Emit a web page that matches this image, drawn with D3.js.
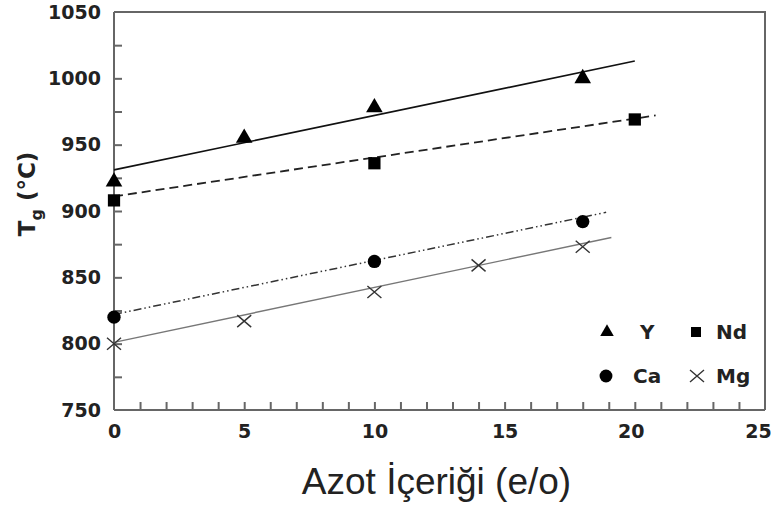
<!DOCTYPE html>
<html>
  <head>
    <meta http-equiv="Content-Type" content="text/html;charset=utf-8"/>
    <style type="text/css">

body {
  margin: 0;
  background: #fff;
}

svg {
  font-family: "Liberation Sans", Arial, sans-serif;
}

.axis text {
  font-family: "DejaVu Sans", sans-serif;
  font-weight: bold;
  font-size: 19px;
  fill: #222;
}

.axis line, .axis path, .frame {
  fill: none;
  stroke: #666;
  stroke-width: 2px;
}

.fits path {
  fill: none;
}

.legend text {
  font-family: "DejaVu Sans", sans-serif;
  font-weight: bold;
  font-size: 20px;
  fill: #222;
}

    </style>
  </head>
  <body>
    <svg></svg>

    <script type="text/javascript" src="https://cdn.jsdelivr.net/npm/d3@7"></script>

    <script type="text/javascript">

var yNitrogen  = [0, 5, 10, 18],
    yTg        = [922, 955, 978, 1000];
var ndNitrogen = [0, 10, 20],
    ndTg       = [908, 936, 969];
var caNitrogen = [0, 10, 18],
    caTg       = [820, 862, 892];
var mgNitrogen = [0, 5, 10, 14, 18],
    mgTg       = [800, 817, 839, 859, 873];

// fitted lines: [start, end] in (N, Tg)
var yFit  = [[0, 931], [20, 1013]],
    ndFit = [[0, 911], [20.8, 972]],
    caFit = [[0, 822], [18.9, 899]],
    mgFit = [[0, 801], [19.1, 880]];

var xTicks = [0, 5, 10, 15, 20, 25],
    yTicks = [750, 800, 850, 900, 950, 1000, 1050];

var legendNames = ["Y", "Nd", "Ca", "Mg"];

var W = 776, H = 506;
var m = [12, 11, 96, 114]; // top right bottom left

var svg = d3.select("svg")
    .attr("width", W)
    .attr("height", H);

var w = W - m[1] - m[3],
    h = H - m[0] - m[2];

var x = d3.scaleLinear().domain([0, 25]).range([m[3], m[3] + w]);
var y = d3.scaleLinear().domain([750, 1050]).range([m[0] + h, m[0]]);

// frame top + right
svg.append("path")
    .attr("class", "frame")
    .attr("d", "M" + x(0) + "," + y(1050) + "H" + x(25) + "V" + y(750));

// x axis with minor ticks pointing inward
svg.append("g")
    .attr("class", "axis")
    .attr("transform", "translate(0," + y(750) + ")")
    .call(d3.axisTop(x).tickValues(d3.range(1, 25)).tickSize(8).tickFormat(""))
    .call(g => g.select(".domain").remove());

var xa = svg.append("g")
    .attr("class", "axis")
    .attr("transform", "translate(0," + y(750) + ")")
    .call(d3.axisBottom(x).tickValues(xTicks).tickSize(0).tickPadding(15).tickFormat(d3.format("d")));
xa.select(".domain").attr("d", "M" + x(0) + ",0H" + x(25));
xa.selectAll("text")
    .attr("dy", "0.71em")
    .attr("dx", d => d === 25 ? -7 : (d === 20 ? -4 : 0));

// y axis
svg.append("g")
    .attr("class", "axis")
    .attr("transform", "translate(" + x(0) + ",0)")
    .call(d3.axisRight(y).tickValues(d3.range(775, 1050, 25)).tickSize(8).tickFormat(""))
    .call(g => g.select(".domain").remove());

var ya = svg.append("g")
    .attr("class", "axis")
    .attr("transform", "translate(" + x(0) + ",0)")
    .call(d3.axisLeft(y).tickValues(yTicks).tickSize(0).tickPadding(13).tickFormat(d3.format("d")));
ya.select(".domain").attr("d", "M0," + y(750) + "V" + y(1050));
ya.selectAll("text").attr("text-anchor", "end");

// axis titles
svg.append("text")
    .attr("x", (x(0) + x(25)) / 2 - 3)
    .attr("y", 494)
    .attr("text-anchor", "middle")
    .style("font-size", "37px")
    .style("fill", "#222")
    .text("Azot İçeriği (e/o)");

var yt = svg.append("text")
    .attr("transform", "translate(35,194) rotate(-90)")
    .attr("text-anchor", "middle")
    .style("font-family", "'DejaVu Sans', sans-serif")
    .style("font-size", "23px")
    .style("font-weight", "bold")
    .style("fill", "#222");
yt.append("tspan").text("T");
yt.append("tspan").attr("dy", 7).style("font-size", "16px").text("g");
yt.append("tspan").attr("dy", -7).text(" (°C)");

// fit lines
var line = d3.line().x(d => x(d[0])).y(d => y(d[1]));
var fits = [
  {pts: yFit,  stroke: "#111", width: 1.6, dash: null},
  {pts: ndFit, stroke: "#222", width: 1.8, dash: "9,5"},
  {pts: caFit, stroke: "#333", width: 1.5, dash: "8,3,1.5,3,1.5,3"},
  {pts: mgFit, stroke: "#777", width: 1.4, dash: null}
];
svg.append("g")
    .attr("class", "fits")
  .selectAll("path")
    .data(fits)
  .enter().append("path")
    .attr("d", d => line(d.pts))
    .attr("stroke", d => d.stroke)
    .attr("stroke-width", d => d.width)
    .attr("stroke-dasharray", d => d.dash);

// markers
var tri = d3.symbol().type(d3.symbolTriangle).size(120);
var sq = d3.symbol().type(d3.symbolSquare).size(150);
var circ = d3.symbol().type(d3.symbolCircle).size(140);

function zip(a, b) { return a.map((v, i) => [v, b[i]]); }

var pts = svg.append("g");

pts.selectAll(".tri")
    .data(zip(yNitrogen, yTg))
  .enter().append("path")
    .attr("d", tri)
    .attr("fill", "#000")
    .attr("transform", d => "translate(" + x(d[0]) + "," + y(d[1]) + ")");

pts.selectAll(".sq")
    .data(zip(ndNitrogen, ndTg))
  .enter().append("path")
    .attr("d", sq)
    .attr("fill", "#000")
    .attr("transform", d => "translate(" + x(d[0]) + "," + y(d[1]) + ")");

pts.selectAll(".circ")
    .data(zip(caNitrogen, caTg))
  .enter().append("path")
    .attr("d", circ)
    .attr("fill", "#000")
    .attr("transform", d => "translate(" + x(d[0]) + "," + y(d[1]) + ")");

function cross(g) {
  g.append("path")
    .attr("d", "M-7,-6L7,6M-7,6L7,-6")
    .attr("stroke", "#333")
    .attr("stroke-width", 1.4);
}

pts.selectAll(".mg")
    .data(zip(mgNitrogen, mgTg))
  .enter().append("g")
    .attr("transform", d => "translate(" + x(d[0]) + "," + y(d[1]) + ")")
    .call(cross);

// legend
var lg = svg.append("g").attr("class", "legend");
var items = [
  {name: legendNames[0], sym: "tri", mx: 607, my: 332, tx: 640},
  {name: legendNames[1], sym: "sq",  mx: 696, my: 332, tx: 716},
  {name: legendNames[2], sym: "circ", mx: 606, my: 376, tx: 633},
  {name: legendNames[3], sym: "x",   mx: 697, my: 376, tx: 716}
];
items.forEach(function (it) {
  var g = lg.append("g").attr("transform", "translate(" + it.mx + "," + it.my + ")");
  if (it.sym === "tri") g.append("path").attr("d", d3.symbol().type(d3.symbolTriangle).size(80)).attr("fill", "#000");
  if (it.sym === "sq") g.append("path").attr("d", d3.symbol().type(d3.symbolSquare).size(100)).attr("fill", "#000");
  if (it.sym === "circ") g.append("path").attr("d", d3.symbol().type(d3.symbolCircle).size(130)).attr("fill", "#000");
  if (it.sym === "x") g.call(cross);
  lg.append("text")
      .attr("x", it.tx)
      .attr("y", it.my + 7)
      .text(it.name);
});

    </script>
  </body>
</html>
